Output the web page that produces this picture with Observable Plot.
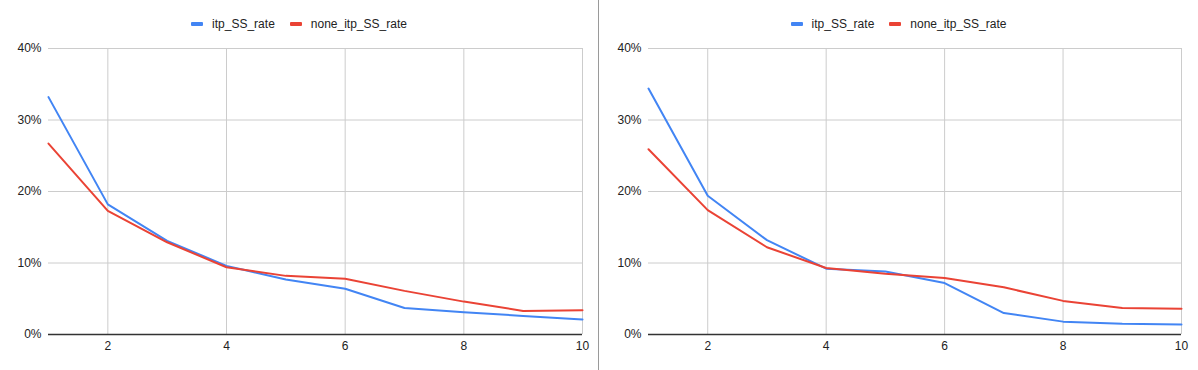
<!DOCTYPE html>
<html>
<head>
<meta charset="utf-8">
<script src="https://cdn.jsdelivr.net/npm/d3@7"></script>
<script src="https://cdn.jsdelivr.net/npm/@observablehq/plot@0.6"></script>
<style>
  html, body { margin: 0; padding: 0; background: #fff; }
  body { width: 1198px; height: 370px; overflow: hidden; font-family: "Liberation Sans", Arial, sans-serif; }
  #wrap { display: flex; width: 1198px; height: 370px; }
  .panel { position: relative; height: 370px; }
  .legend { position: absolute; top: 17px; left: 0; right: 0; display: flex; justify-content: center; align-items: center; font-size: 12px; color: #222; height: 14px; }
  .item { display: flex; align-items: center; }
  .item + .item { margin-left: 15px; }
  .sw { width: 12px; height: 4px; margin-right: 9px; border-radius: 1px; }
  .plotbox { position: absolute; top: 40px; left: 0; }
</style>
</head>
<body>
<div id="wrap"></div>
<script>
const xs = [1, 2, 3, 4, 5, 6, 7, 8, 9, 10];
const seriesNames = ["itp_SS_rate", "none_itp_SS_rate"];
const seriesColors = ["#4285f4", "#ea4335"];
const xTicks = [2, 4, 6, 8, 10];
const yTicks = [0, 10, 20, 30, 40];

// Left chart (percent)
const leftItp  = [33.2, 18.2, 13.1, 9.6, 7.7, 6.4, 3.7, 3.1, 2.6, 2.1];
const leftNone = [26.7, 17.3, 12.9, 9.4, 8.2, 7.8, 6.1, 4.6, 3.3, 3.4];
// Right chart (percent)
const rightItp  = [34.4, 19.4, 13.2, 9.2, 8.8, 7.2, 3.0, 1.8, 1.5, 1.4];
const rightNone = [25.9, 17.4, 12.2, 9.3, 8.5, 7.9, 6.6, 4.7, 3.7, 3.6];

function makePanel(itp, none, width, marginLeft, marginRight, borderLeft) {
  const panel = document.createElement("div");
  panel.className = "panel";
  panel.style.width = width + "px";
  if (borderLeft) panel.style.borderLeft = "1px solid #9a9a9a";

  const legend = document.createElement("div");
  legend.className = "legend";
  seriesNames.forEach((n, i) => {
    const it = document.createElement("div");
    it.className = "item";
    const sw = document.createElement("div");
    sw.className = "sw";
    sw.style.background = seriesColors[i];
    const tx = document.createElement("span");
    tx.textContent = n;
    it.appendChild(sw);
    it.appendChild(tx);
    legend.appendChild(it);
  });
  panel.appendChild(legend);

  const data = [];
  xs.forEach((x, i) => {
    data.push({x, v: itp[i], s: seriesNames[0]});
    data.push({x, v: none[i], s: seriesNames[1]});
  });

  const chart = Plot.plot({
    width: width,
    height: 330,
    marginTop: 8,
    marginBottom: 36,
    marginLeft: marginLeft,
    marginRight: marginRight,
    style: { fontFamily: "Liberation Sans, Arial, sans-serif", fontSize: "12px", color: "#222", background: "transparent" },
    x: { domain: [1, 10], ticks: xTicks, tickSize: 0, tickPadding: 7, label: null },
    y: { domain: [0, 40], ticks: yTicks, tickSize: 0, tickPadding: 7, label: null, tickFormat: d => d + "%" },
    color: { domain: seriesNames, range: seriesColors },
    marks: [
      Plot.gridY(yTicks, { stroke: "#cccccc", strokeOpacity: 1 }),
      Plot.gridX(xTicks, { stroke: "#cccccc", strokeOpacity: 1 }),
      Plot.axisX({ ticks: xTicks, tickSize: 0, tickPadding: 7, fill: "#222", fontSize: 12 }),
      Plot.axisY({ ticks: yTicks, tickSize: 0, tickPadding: 7, fill: "#222", fontSize: 12, tickFormat: d => d + "%" }),
      Plot.ruleY([0], { stroke: "#333", strokeWidth: 1.3 }),
      Plot.line(data, { x: "x", y: "v", z: "s", stroke: "s", strokeWidth: 2, curve: "linear" })
    ]
  });
  const box = document.createElement("div");
  box.className = "plotbox";
  box.appendChild(chart);
  panel.appendChild(box);
  return panel;
}

const wrap = document.getElementById("wrap");
wrap.appendChild(makePanel(leftItp, leftNone, 598, 48, 16, false));
wrap.appendChild(makePanel(rightItp, rightNone, 599, 49, 17, true));
</script>
</body>
</html>
